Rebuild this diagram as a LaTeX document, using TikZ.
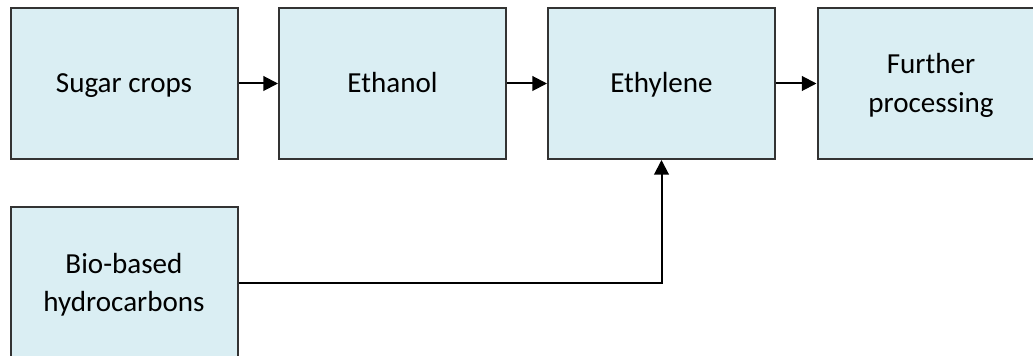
\documentclass[tikz,border=0pt]{standalone}
\usepackage{fontspec}
\setmainfont{Carlito}
\usetikzlibrary{arrows.meta,positioning}
\definecolor{boxfill}{HTML}{DAEEF3}
\definecolor{boxline}{HTML}{333333}
\newcommand\boxstrut{\rule[-3.75pt]{0pt}{21.75pt}}
\begin{document}
\begin{tikzpicture}[x=0.75pt,y=-0.75pt,
  procbox/.style={draw=boxline,fill=boxfill,line width=1.5pt,minimum width=227*0.75pt,minimum height=151*0.75pt,inner sep=0pt,align=center,font=\fontsize{21.8pt}{29pt}\selectfont},
  flow/.style={line width=1.5pt,-{Triangle[length=11pt,width=11pt]}}]
\path[use as bounding box,clip] (0,0) rectangle (1033,356);
\fill[white] (0,0) rectangle (1033,356);
\node[procbox] (sugar) at (124,83.5) {\boxstrut Sugar crops};
\node[procbox] (ethanol) at (392.5,83.5) {\boxstrut Ethanol};
\node[procbox] (ethylene) at (661.5,83.5) {\boxstrut Ethylene};
\node[procbox] (further) at (931,83.5) {\boxstrut Further\\\boxstrut processing};
\node[procbox] (bio) at (124,283) {\boxstrut Bio-based\\\boxstrut hydrocarbons};
\draw[flow] (sugar) -- (ethanol);
\draw[flow] (ethanol) -- (ethylene);
\draw[flow] (ethylene) -- (further);
\draw[flow] (bio.east) -| (ethylene.south);
\end{tikzpicture}
\end{document}
